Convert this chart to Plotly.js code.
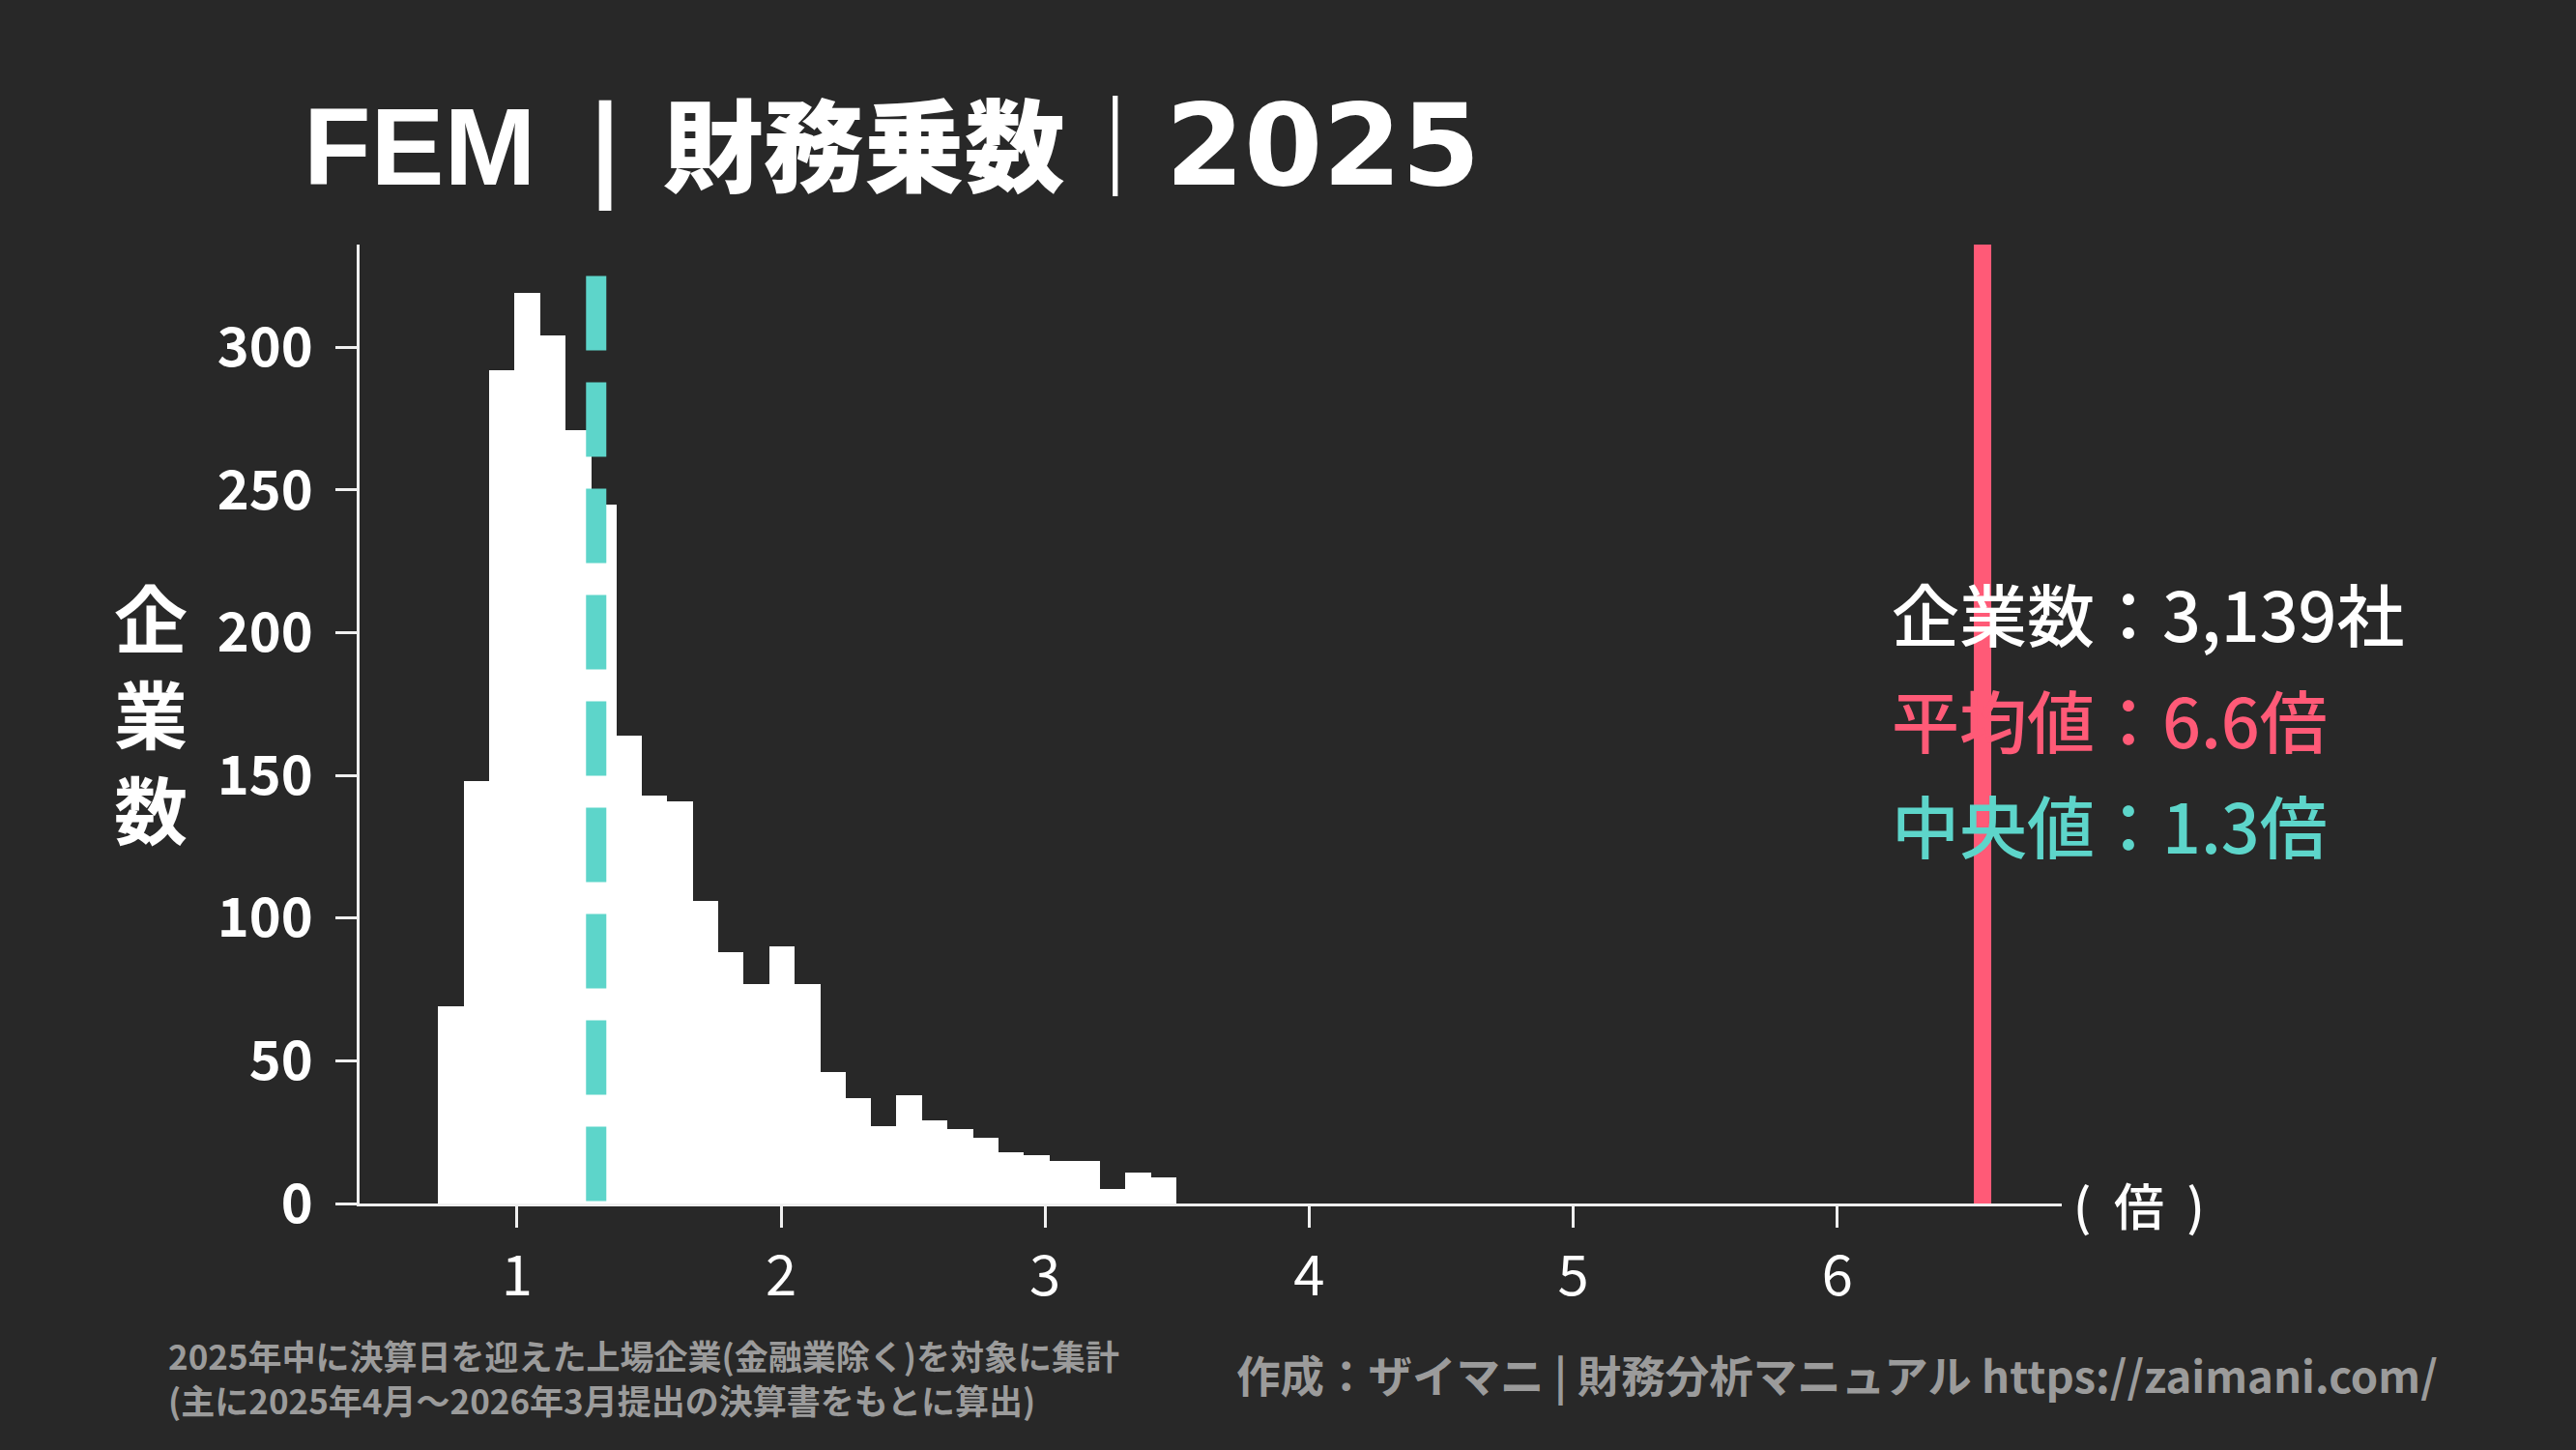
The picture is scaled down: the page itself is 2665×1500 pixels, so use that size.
<!DOCTYPE html>
<html>
<head>
<meta charset="utf-8">
<script src="https://cdn.plot.ly/plotly-3.0.1.min.js"></script>
<style>
  html, body { margin: 0; padding: 0; background: #282828; }
  #chart { width: 2665px; height: 1500px; }
</style>
</head>
<body>
<div id="chart"></div>
<script>
// ---- data ----
const binCenters = [0.750, 0.847, 0.943, 1.039, 1.136, 1.232, 1.329, 1.425, 1.521, 1.618,
                    1.714, 1.810, 1.907, 2.003, 2.100, 2.196, 2.292, 2.389, 2.485, 2.581,
                    2.678, 2.774, 2.871, 2.967, 3.063, 3.160, 3.256, 3.353, 3.449];
const counts = [69, 148, 292, 319, 304, 271, 245, 164, 143, 141,
                106, 88, 77, 90, 77, 46, 37, 27, 38, 29,
                26, 23, 18, 17, 15, 15, 5, 11, 9];
const binWidth = 0.0964;
const meanVal = 6.55;
const medianVal = 1.30;
const medianLineTop = 325;
const xTicks = [1, 2, 3, 4, 5, 6];
const yTicks = [0, 50, 100, 150, 200, 250, 300];

const titleParts = ["FEM", "|", "財務乗数", "｜", "2025"];
const statLines = ["企業数：3,139社", "平均値：6.6倍", "中央値：1.3倍"];
const yTitleChars = ["企", "業", "数"];
const unitLabel = "(  倍  )";
const noteLines = ["2025年中に決算日を迎えた上場企業(金融業除く)を対象に集計",
                   "(主に2025年4月～2026年3月提出の決算書をもとに算出)"];
const creditText = "作成：ザイマニ | 財務分析マニュアル https://zaimani.com/";

// ---- styles ----
const BG = "#282828";
const PINK = "#FF5A77";
const TEAL = "#5DD5CA";
const GRAY = "#9b9b9b";
const CJK = "Noto Sans CJK JP, Noto Sans, sans-serif";
const BAR_OVERLAP = 0.0012; // tiny overlap so adjacent bars leave no seam

const titleHtml =
  titleParts[0] + "&nbsp;" + '<span style="font-size:68px">&nbsp;</span>' +
  '<span style="font-family:DejaVu Sans">' + titleParts[1] + "</span>" +
  '<span style="font-size:140px">&nbsp;</span>' +
  '<span style="font-family:Noto Sans CJK JP;font-size:104px;font-weight:900">' + titleParts[2] + titleParts[3] + "</span>" +
  '<span style="font-family:DejaVu Sans;font-size:117px">' + titleParts[4] + "</span>";

const trace = {
  type: "bar",
  x: binCenters,
  y: counts,
  width: binWidth + BAR_OVERLAP,
  marker: { color: "#ffffff", line: { width: 0 } },
  hoverinfo: "skip"
};

const statColors = ["#ffffff", PINK, TEAL];
const statY = [0.616, 0.506, 0.396];
const annotations = [];
statLines.forEach((t, i) => annotations.push({
  xref: "paper", yref: "paper", x: 0.899, y: statY[i],
  xanchor: "left", yanchor: "middle", showarrow: false,
  text: t, font: { family: CJK, size: 70, color: statColors[i], weight: 500 }
}));
annotations.push({
  xref: "paper", yref: "paper", x: -0.1227, y: 0.513,
  xanchor: "center", yanchor: "middle", showarrow: false, align: "center",
  text: yTitleChars.join("<br>"),
  font: { family: CJK, size: 76, color: "#ffffff", weight: 700 }
});
annotations.push({
  xref: "paper", yref: "paper", x: 1.0454, y: 0.0,
  xanchor: "center", yanchor: "middle", showarrow: false,
  text: unitLabel, font: { family: CJK, size: 52, color: "#ffffff", weight: 500 }
});
annotations.push({
  xref: "paper", yref: "paper", x: -0.1136, y: -0.181,
  xanchor: "left", yanchor: "middle", showarrow: false, align: "left",
  text: noteLines.join("<br>"),
  font: { family: CJK, size: 35, color: GRAY, weight: 700 }
});
annotations.push({
  xref: "paper", yref: "paper", x: 1.222, y: -0.1774,
  xanchor: "right", yanchor: "middle", showarrow: false,
  text: creditText, font: { family: CJK, size: 45.5, color: GRAY, weight: 700 }
});

const layout = {
  width: 2665, height: 1500,
  paper_bgcolor: BG, plot_bgcolor: BG,
  margin: { l: 372, r: 532, t: 253, b: 255 },
  showlegend: false,
  bargap: 0,
  title: {
    text: titleHtml,
    xref: "container", yref: "container",
    x: 0.1178, xanchor: "left",
    y: 0.899, yanchor: "middle",
    font: { family: "Liberation Sans, Noto Sans CJK JP, sans-serif", size: 114, color: "#ffffff", weight: 700 }
  },
  xaxis: {
    range: [0.404, 6.85],
    tickmode: "array", tickvals: xTicks, ticktext: xTicks.map(String),
    showgrid: false, zeroline: false,
    showline: true, linecolor: "#f0f0f0", linewidth: 3,
    ticks: "outside", ticklen: 22, tickwidth: 3, tickcolor: "#f0f0f0",
    ticklabelstandoff: 0,
    tickfont: { family: CJK, size: 58, color: "#ffffff" }
  },
  yaxis: {
    range: [0, 336],
    tickmode: "array", tickvals: yTicks, ticktext: yTicks.map(String),
    showgrid: false, zeroline: false,
    showline: true, linecolor: "#f0f0f0", linewidth: 3,
    ticks: "outside", ticklen: 22, tickwidth: 3, tickcolor: "#f0f0f0",
    ticklabelstandoff: 12,
    tickfont: { family: CJK, size: 56, color: "#ffffff", weight: 700 }
  },
  shapes: [
    { type: "line", xref: "x", yref: "paper", x0: meanVal, x1: meanVal, y0: 0, y1: 1,
      line: { color: PINK, width: 18 }, layer: "above" },
    { type: "line", xref: "x", yref: "y", x0: medianVal, x1: medianVal, y0: medianLineTop, y1: 0,
      line: { color: TEAL, width: 21, dash: "77px,33px" }, layer: "above" }
  ],
  annotations: annotations
};

Plotly.newPlot("chart", [trace], layout, { staticPlot: true, displayModeBar: false });
</script>
</body>
</html>
